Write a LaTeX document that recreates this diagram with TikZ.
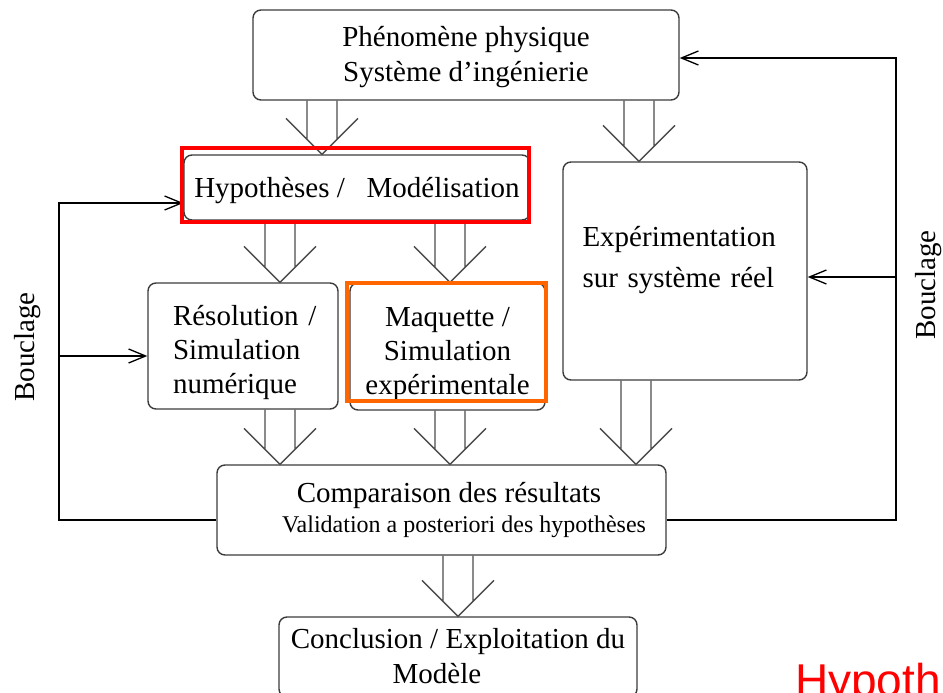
\documentclass[tikz,border=0pt]{standalone}
\usepackage{fontspec}
\setmainfont{Liberation Serif}
\newfontfamily\hypfont{Liberation Sans}
\usetikzlibrary{calc,arrows.meta}
\definecolor{boxgray}{RGB}{60,60,60}
\definecolor{shaft}{RGB}{75,75,75}
\definecolor{hred}{RGB}{255,0,0}
\definecolor{horange}{RGB}{255,102,0}
\newcommand\dblarr[3]{%
  \draw[dblline] let \p1=(#1.south), \p2=(#2.north) in
    ({#3pt-15pt},\y1) -- ({#3pt-15pt},{\y2+15pt})
    ({#3pt+15pt},\y1) -- ({#3pt+15pt},{\y2+15pt})
    ({#3pt-36pt},{\y2+36pt}) -- (#3pt,\y2) -- ({#3pt+36pt},{\y2+36pt});
}
\begin{document}
\begin{tikzpicture}[x=1pt,y=-1pt,
  box/.style={draw=boxgray,line width=1.4pt,rounded corners=8pt,inner sep=0pt,font=\fontsize{29}{35}\selectfont},
  hl/.style={draw=#1,line width=3.5pt,inner sep=0pt},
  fb/.style={draw=black,line width=1.3pt,-{Straight Barb[length=17pt,width=14pt]}},
  dblline/.style={draw=shaft,line width=1.4pt},
  lbl/.style={font=\fontsize{29}{35}\selectfont,rotate=90,inner sep=0pt}]
\useasboundingbox (0,0) rectangle (943,693);

% boxes
\node[box,minimum width=426pt,minimum height=90pt,align=center] (top) at (466,55) {\rule{0pt}{25pt}Phénomène physique\\Système d'ingénierie};
\node[box,minimum width=346pt,minimum height=65pt] (hyp) at (357,187.5) {\rule{0pt}{27pt}Hypothèses /\ \ \ Modélisation};
\node[box,minimum width=190pt,minimum height=126pt,text width=140pt,align=left,font=\fontsize{29}{34}\selectfont] (res) at (243,346) {\rule{0pt}{33pt}Résolution~/\\Simulation\\numérique};
\node[box,minimum width=195pt,minimum height=127pt,align=center,font=\fontsize{29}{34}\selectfont] (maq) at (447.5,346.5) {\rule{0pt}{34pt}Maquette /\\Simulation\\expérimentale};
\node[box,minimum width=244pt,minimum height=218pt,text width=205pt,align=left,font=\fontsize{29}{41}\selectfont] (exp) at (685,271) {Expérimentation\\sur système réel\rule[-29pt]{0pt}{1pt}};
\node[box,minimum width=449pt,minimum height=90pt,align=center,font=\fontsize{29}{30}\selectfont] (comp) at (441.5,510) {\hspace*{15pt}Comparaison des résultats\\\hspace*{45pt}{\fontsize{24}{30}\selectfont Validation a posteriori des hypothèses}};
\node[box,minimum width=358pt,minimum height=80pt,align=center] (concl) at (458,657) {Conclusion / Exploitation du\\Modèle\hspace*{42pt}\rule[-3pt]{0pt}{1pt}};

% double arrows
\dblarr{top}{hyp}{322}
\dblarr{top}{exp}{639}
\dblarr{hyp}{res}{280}
\dblarr{hyp}{maq}{450}
\dblarr{res}{comp}{280}
\dblarr{maq}{comp}{450}
\dblarr{exp}{comp}{636}
\dblarr{comp}{concl}{458}

% feedback loops
\coordinate (L1) at (59,520);
\coordinate (L2) at (59,203);
\coordinate (L3) at (59,356);
\coordinate (R1) at (896,520);
\coordinate (R2) at (896,58);
\coordinate (R3) at (896,277);
\draw[fb] ([yshift=-10pt]comp.west) -- (L1) -- (L2) -- (L2 -| hyp.west);
\draw[fb] (L3) -- (L3 -| res.west);
\draw[fb] ([yshift=-10pt]comp.east) -- (R1) -- (R2) -- (R2 -| top.east);
\draw[fb] (R3) -- (R3 -| exp.east);

\node[lbl] (bl) at (28,347) {Bouclage};
\node[lbl] (br) at (929,285) {Bouclage};

% highlights
\node[hl=hred,minimum width=347pt,minimum height=74pt] (hypred) at (355.5,185) {};
\node[hl=horange,minimum width=199pt,minimum height=118pt] (maqor) at (446.5,342) {};

\node[font=\hypfont\fontsize{46}{50}\selectfont,text=hred,anchor=base west,inner sep=0pt] (hypoth) at (795,696) {Hypoth};
\end{tikzpicture}
\end{document}
